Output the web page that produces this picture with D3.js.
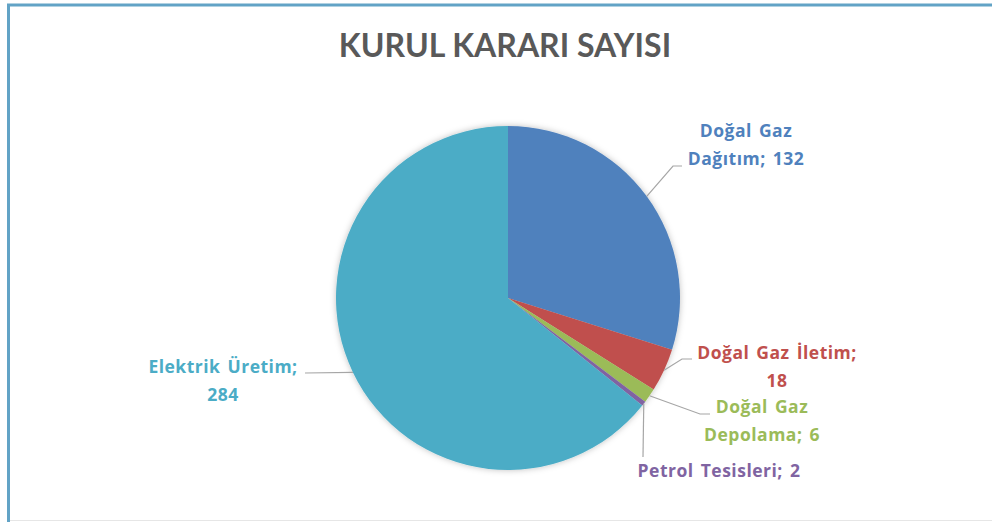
<!DOCTYPE html>
<html>
<head>
<meta charset="utf-8">
<script src="https://cdn.jsdelivr.net/npm/d3@7.9.0/dist/d3.min.js"></script>
<style>
  html, body { margin: 0; padding: 0; background: #fff; }
  svg { display: block; }
  .title { font-family: Lato, "Open Sans", sans-serif; font-weight: 700; }
  .lbl { font-family: "Open Sans", Lato, sans-serif; font-weight: 700; letter-spacing: 0.5px; word-spacing: 2px; }
</style>
</head>
<body>
<svg id="chart" width="992" height="522"></svg>
<script>
// data
const categories = ['Doğal Gaz Dağıtım', 'Doğal Gaz İletim', 'Doğal Gaz Depolama', 'Petrol Tesisleri', 'Elektrik Üretim'];
const values = [132, 18, 6, 2, 284];
const colors = ['#4F81BD', '#C0504D', '#9BBB59', '#8064A2', '#4BACC6'];
const labelLines = [
  ['Doğal Gaz', 'Dağıtım; 132'],
  ['Doğal Gaz İletim;', '18'],
  ['Doğal Gaz', 'Depolama; 6'],
  ['Petrol Tesisleri; 2'],
  ['Elektrik Üretim;', '284']
];

// label layout: elbow / end of leader, text centre and first baseline
const labelLayout = [
  { elbow: [673, 166], end: [682, 166], tx: 746, ty: 137 },
  { elbow: [682, 359], end: [692, 359], tx: 777, ty: 359 },
  { elbow: [700, 414], end: [710, 414], tx: 762, ty: 413 },
  { elbow: null, end: [643, 457], tx: 719, ty: 477 },
  { elbow: null, end: [305, 373], tx: 223, ty: 373 }
];

const svg = d3.select('#chart');
const cx = 508, cy = 298, radius = 172;

// soft glow round the pie, like the excel style
const filter = svg.append('defs').append('filter').attr('id', 'glow')
  .attr('x', '-10%').attr('y', '-10%').attr('width', '120%').attr('height', '120%');
filter.append('feDropShadow')
  .attr('dx', 0).attr('dy', 0).attr('stdDeviation', 3)
  .attr('flood-color', '#000').attr('flood-opacity', 0.25);

// frame (cropped excel chart area)
svg.append('line').attr('x1', 7).attr('x2', 992).attr('y1', 5).attr('y2', 5)
  .attr('stroke', '#62A3C6').attr('stroke-width', 3);
svg.append('line').attr('x1', 8.5).attr('x2', 8.5).attr('y1', 4).attr('y2', 522)
  .attr('stroke', '#62A3C6').attr('stroke-width', 3);
svg.append('line').attr('x1', 10).attr('x2', 992).attr('y1', 520.5).attr('y2', 520.5)
  .attr('stroke', '#E6E6E6').attr('stroke-width', 1);

// title
svg.append('text')
  .attr('class', 'title')
  .attr('x', 505).attr('y', 57)
  .attr('text-anchor', 'middle')
  .attr('fill', '#595959')
  .attr('font-size', 32)
  .text('KURUL KARARI SAYISI');

const pie = d3.pie().sort(null).value(d => d);
const arcs = pie(values);
const arcGen = d3.arc().innerRadius(0).outerRadius(radius);
const edgeArc = d3.arc().innerRadius(radius).outerRadius(radius);

const g = svg.append('g')
  .attr('transform', `translate(${cx},${cy})`)
  .attr('filter', 'url(#glow)');
g.selectAll('path')
  .data(arcs)
  .join('path')
  .attr('d', arcGen)
  .attr('fill', (d, i) => colors[i]);

// leader lines
arcs.forEach((d, i) => {
  const [ex, ey] = edgeArc.centroid(d);
  const lay = labelLayout[i];
  const pts = [[cx + ex, cy + ey]];
  if (lay.elbow) pts.push(lay.elbow);
  pts.push(lay.end);
  svg.append('path')
    .attr('d', d3.line()(pts))
    .attr('fill', 'none')
    .attr('stroke', '#A6A6A6')
    .attr('stroke-width', 1.2);
});

// labels
labelLines.forEach((lines, i) => {
  const lay = labelLayout[i];
  const t = svg.append('text')
    .attr('class', 'lbl')
    .attr('x', lay.tx).attr('y', lay.ty)
    .attr('text-anchor', 'middle')
    .attr('fill', colors[i])
    .attr('font-size', 17.5);
  lines.forEach((s, j) => {
    t.append('tspan').attr('x', lay.tx).attr('dy', j === 0 ? 0 : 28).text(s);
  });
});
</script>
</body>
</html>
